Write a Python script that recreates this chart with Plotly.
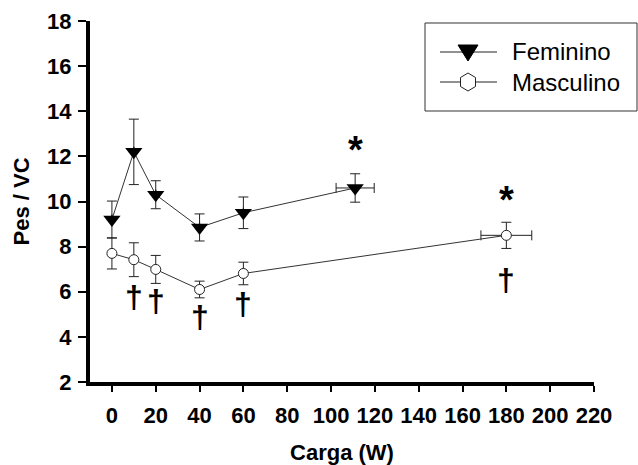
import plotly.graph_objects as go

# Data
fem_x = [0, 10, 20, 40, 60, 111]
fem_y = [9.2, 12.2, 10.3, 8.85, 9.5, 10.6]
fem_err = [0.82, 1.45, 0.62, 0.6, 0.7, 0.63]
fem_xerr = [0, 0, 0, 0, 0, 8.7]

mas_x = [0, 10, 20, 40, 60, 180]
mas_y = [7.7, 7.42, 6.99, 6.1, 6.81, 8.5]
mas_err = [0.69, 0.75, 0.62, 0.37, 0.5, 0.58]
mas_xerr = [0, 0, 0, 0, 0, 11.6]

dagger_x = [10, 20, 40, 60, 180]
dagger_y = [5.77, 5.59, 4.87, 5.44, 6.51]
star_x = [111, 180]
star_y = [12.45, 10.25]

xticks = list(range(0, 221, 20))
yticks = list(range(2, 19, 2))
legend_names = ["Feminino", "Masculino"]

FONT = "Liberation Sans, Arial, sans-serif"

W, H = 638, 465
ML, MR, MT, MB = 90, 44, 21, 83
PW, PH = W - ML - MR, H - MT - MB


def px(x):
    return (x - ML) / PW


def py(y):
    return (H - MB - y) / PH


fig = go.Figure()
fig.add_trace(go.Scatter(
    x=mas_x, y=mas_y, name=legend_names[1], mode="lines+markers", showlegend=False,
    line=dict(color="#333333", width=1),
    marker=dict(symbol="circle", size=10, color="white", line=dict(color="#222222", width=1)),
    error_y=dict(type="data", array=mas_err, color="#222222", thickness=1, width=5),
    error_x=dict(type="data", array=mas_xerr, color="#222222", thickness=1, width=5),
))
fig.add_trace(go.Scatter(
    x=fem_x, y=fem_y, name=legend_names[0], mode="lines+markers", showlegend=False,
    line=dict(color="#333333", width=1),
    marker=dict(symbol="triangle-down", size=15, color="black", line=dict(width=0)),
    error_y=dict(type="data", array=fem_err, color="#222222", thickness=1, width=5),
    error_x=dict(type="data", array=fem_xerr, color="#222222", thickness=1, width=5),
))

for x, y in zip(dagger_x, dagger_y):
    fig.add_annotation(x=x, y=y, text="<b>†</b>", showarrow=False,
                       font=dict(size=32, color="black", family=FONT))
for x, y in zip(star_x, star_y):
    fig.add_annotation(x=x, y=y, text="<b>*</b>", showarrow=False, yshift=-4,
                       font=dict(size=38, color="black", family=FONT))

# Custom legend (box, line samples, glyphs, labels)
shapes = []
shapes.append(dict(type="rect", xref="paper", yref="paper",
                   x0=px(425), x1=px(637), y0=py(111), y1=py(23),
                   line=dict(color="#333333", width=1), fillcolor="white", layer="above"))
rows = [52, 82]
for r in rows:
    shapes.append(dict(type="line", xref="paper", yref="paper",
                       x0=px(440), x1=px(497), y0=py(r), y1=py(r),
                       line=dict(color="#222222", width=1), layer="above"))
# triangle glyph
cx, cy = 468, rows[0]
shapes.append(dict(type="path", xref="paper", yref="paper", layer="above",
                   path=f"M {px(cx-10)} {py(cy-7)} L {px(cx+10)} {py(cy-7)} L {px(cx)} {py(cy+9)} Z",
                   fillcolor="black", line=dict(color="black", width=1)))
# hexagon glyph
cx, cy = 468, rows[1]
hx, hy = 7.5, 9
hex_pts = [(cx, cy - hy), (cx + hx, cy - hy / 2), (cx + hx, cy + hy / 2),
           (cx, cy + hy), (cx - hx, cy + hy / 2), (cx - hx, cy - hy / 2)]
path = "M " + " L ".join(f"{px(a)} {py(b)}" for a, b in hex_pts) + " Z"
shapes.append(dict(type="path", xref="paper", yref="paper", layer="above", path=path,
                   fillcolor="white", line=dict(color="#222222", width=1)))
for name, r in zip(legend_names, rows):
    fig.add_annotation(xref="paper", yref="paper", x=px(510), y=py(r), text=name,
                       xanchor="left", yanchor="middle", showarrow=False,
                       font=dict(size=24, color="black", family=FONT))

fig.update_layout(
    width=W, height=H,
    margin=dict(l=ML, r=MR, t=MT, b=MB, autoexpand=False),
    paper_bgcolor="white", plot_bgcolor="white",
    font=dict(family=FONT, color="black"),
    showlegend=False,
    shapes=shapes,
    xaxis=dict(
        range=[-10, 220], tickvals=xticks, automargin=False,
        showgrid=False, zeroline=False, showline=True, linecolor="black", linewidth=4,
        ticks="outside", ticklen=6, tickwidth=1.5, tickcolor="black",
        tickfont=dict(size=22, family=FONT, weight="bold"), ticklabelstandoff=5,
        title=dict(text="Carga (W)", font=dict(size=22, family=FONT, weight="bold"), standoff=20),
    ),
    yaxis=dict(
        range=[2, 18], tickvals=yticks, automargin=False,
        showgrid=False, zeroline=False, showline=True, linecolor="black", linewidth=4,
        ticks="outside", ticklen=8, tickwidth=1.5, tickcolor="black",
        tickfont=dict(size=22, family=FONT, weight="bold"), ticklabelstandoff=2,
        title=dict(text="Pes / VC", font=dict(size=22, family=FONT, weight="bold"), standoff=12),
    ),
)

fig.write_html("out.html")
